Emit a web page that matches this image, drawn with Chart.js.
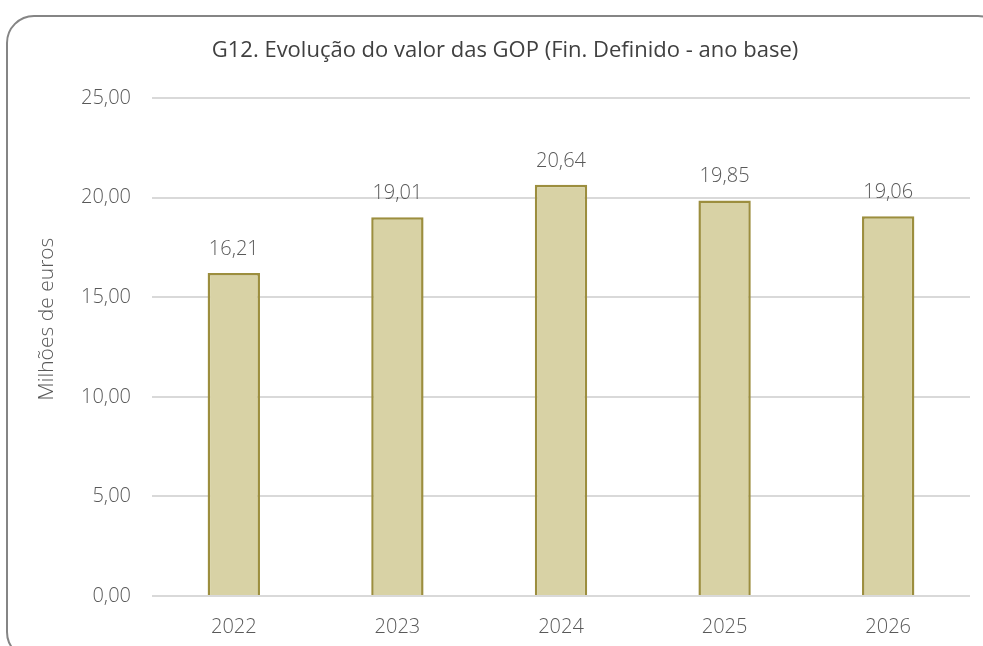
<!DOCTYPE html>
<html>
<head>
<meta charset="utf-8">
<script src="https://cdn.jsdelivr.net/npm/chart.js@4"></script>
<style>
  html, body { margin: 0; padding: 0; background: #fff; overflow: hidden; }
  #frame {
    position: absolute; left: 6px; top: 15px; width: 1000px; height: 645px;
    border: 2px solid #858585; border-radius: 28px; box-sizing: border-box;
  }
  #wrap { position: absolute; left: 0; top: 0; width: 983px; height: 646px; }
</style>
</head>
<body>
<div id="frame"></div>
<div id="wrap"><canvas id="chart"></canvas></div>
<script>
// Chart values
const years = ['2022', '2023', '2024', '2025', '2026'];
const gopValues = [16.21, 19.01, 20.64, 19.85, 19.06];
const yTicks = [0, 5, 10, 15, 20, 25];

const chartTitle = 'G12. Evolução do valor das GOP (Fin. Definido - ano base)';
const yAxisTitle = 'Milhões de euros';

const fmt = v => v.toFixed(2).replace('.', ',');

// Title, axis title and value labels drawn by hand (positions differ from Chart.js defaults)
const extraText = {
  id: 'extraText',
  afterDatasetsDraw(chart) {
    const ctx = chart.ctx;
    const meta = chart.getDatasetMeta(0);
    ctx.save();

    // value labels above bars
    ctx.font = '300 20px "Open Sans"';
    ctx.fillStyle = '#595959';
    ctx.textAlign = 'center';
    ctx.textBaseline = 'middle';
    meta.data.forEach((bar, i) => {
      ctx.fillText(fmt(gopValues[i]), bar.x, bar.y - 24);
    });

    // chart title
    ctx.font = '22px "Open Sans"';
    ctx.fillStyle = '#404040';
    ctx.fillText(chartTitle, 505, 51);

    // y axis title
    ctx.translate(47, 319);
    ctx.rotate(-Math.PI / 2);
    ctx.font = '300 21px "Open Sans"';
    ctx.fillStyle = '#595959';
    ctx.fillText(yAxisTitle, 0, 0);

    ctx.restore();
  }
};

new Chart(document.getElementById('chart'), {
  type: 'bar',
  data: {
    labels: years,
    datasets: [{
      data: gopValues,
      backgroundColor: '#d8d2a5',
      borderColor: '#9c8e3e',
      borderWidth: 2.5,
      borderSkipped: 'start',
      categoryPercentage: 1,
      barPercentage: 0.32
    }]
  },
  options: {
    responsive: true,
    maintainAspectRatio: false,
    animation: false,
    layout: { padding: { left: 0, right: 13, top: 98, bottom: 0 } },
    plugins: {
      legend: { display: false },
      tooltip: { enabled: false },
      title: { display: false }
    },
    scales: {
      x: {
        grid: { display: false, drawTicks: false },
        border: { display: false },
        ticks: { color: '#595959', font: { family: '"Open Sans"', size: 20, weight: 300 }, padding: 19 },
        afterFit: s => { s.height = 50; }
      },
      y: {
        min: 0,
        max: 25,
        afterBuildTicks: s => { s.ticks = yTicks.map(v => ({ value: v })); },
        grid: { color: '#d9d9d9', lineWidth: 2, drawTicks: false },
        border: { display: false },
        ticks: {
          color: '#595959',
          font: { family: '"Open Sans"', size: 20, weight: 300 },
          padding: 21,
          callback: v => fmt(v)
        },
        afterFit: s => { s.width = 152; }
      }
    }
  },
  plugins: [extraText]
});
</script>
</body>
</html>
